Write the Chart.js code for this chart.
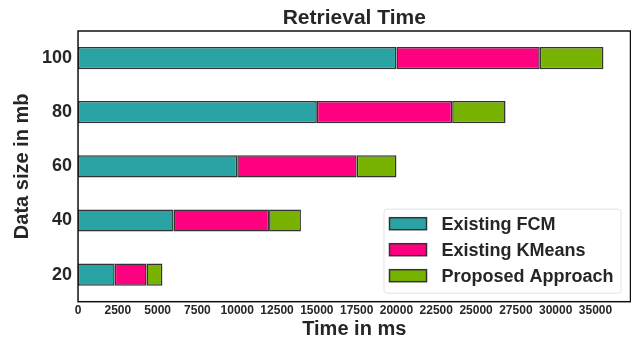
<!DOCTYPE html>
<html>
<head>
<meta charset="utf-8">
<script src="https://cdn.jsdelivr.net/npm/chart.js@4"></script>
<style>
  html, body { margin: 0; padding: 0; background: #fff; }
  #wrap { width: 631px; height: 345px; }
</style>
</head>
<body>
<div id="wrap"><canvas id="myChart" width="631" height="345"></canvas></div>
<script>
// data
const sizes = ['100', '80', '60', '40', '20'];
const fcm = [20000, 15000, 10000, 6000, 2300];
const kmeans = [9000, 8500, 7500, 6000, 2000];
const proposed = [4000, 3350, 2500, 2000, 1000];
const seriesNames = ['Existing FCM', 'Existing KMeans', 'Proposed Approach'];
const xTickValues = [0, 2500, 5000, 7500, 10000, 12500, 15000, 17500, 20000, 22500, 25000, 27500, 30000, 32500];
const xTickLabels = ['0', '2500', '5000', '7500', '10000', '12500', '15000', '17500', '20000', '22500', '25000', '27500', '30000', '35000'];
const chartTitle = 'Retrieval Time';

const colors = ['#2aa3a4', '#ff0080', '#77b300'];
const textColor = '#262626';
const fontFamily = '"Liberation Sans", Arial, sans-serif';

// frame round the plot area + title centred over it
const framePlugin = {
    id: 'frame',
    afterDraw(chart) {
        const a = chart.chartArea;
        const ctx = chart.ctx;
        ctx.save();
        ctx.strokeStyle = '#111';
        ctx.lineWidth = 1.5;
        ctx.strokeRect(a.left, a.top, a.right - a.left, a.bottom - a.top);
        ctx.fillStyle = textColor;
        ctx.font = 'bold 21px ' + fontFamily;
        ctx.textAlign = 'center';
        ctx.textBaseline = 'middle';
        ctx.fillText(chartTitle, (a.left + a.right) / 2, 18);
        ctx.restore();
    }
};

// legend box inside the plot, lower right
const innerLegend = {
    id: 'innerLegend',
    afterDraw(chart) {
        const ctx = chart.ctx;
        const a = chart.chartArea;
        const boxW = 237, boxH = 84;
        const x0 = a.right - 10 - boxW;
        const y0 = a.bottom - 9 - boxH;
        ctx.save();
        ctx.fillStyle = 'rgba(255,255,255,0.9)';
        ctx.strokeStyle = '#e2e2e2';
        ctx.lineWidth = 1;
        ctx.beginPath();
        ctx.roundRect(x0 + 0.5, y0 + 0.5, boxW, boxH, 3);
        ctx.fill();
        ctx.stroke();
        ctx.font = 'bold 18px ' + fontFamily;
        ctx.textBaseline = 'middle';
        chart.data.datasets.forEach((ds, i) => {
            const cy = y0 + 15 + i * 26;
            ctx.fillStyle = ds.backgroundColor;
            ctx.fillRect(x0 + 6, cy - 6, 37, 12);
            ctx.strokeStyle = '#333';
            ctx.lineWidth = 1.5;
            ctx.strokeRect(x0 + 6, cy - 6, 37, 12);
            ctx.fillStyle = textColor;
            ctx.fillText(ds.label, x0 + 58, cy + 1);
        });
        ctx.restore();
    }
};

const ctx = document.getElementById('myChart').getContext('2d');
new Chart(ctx, {
    type: 'bar',
    data: {
        labels: sizes,
        datasets: [fcm, kmeans, proposed].map((vals, i) => ({
            label: seriesNames[i],
            data: vals,
            backgroundColor: colors[i],
            borderColor: '#333',
            borderWidth: 1.5,
            borderSkipped: false,
            categoryPercentage: 1,
            barPercentage: 0.41
        }))
    },
    options: {
        indexAxis: 'y',
        responsive: false,
        animation: false,
        layout: { padding: { left: 12, right: 0.5, top: 31, bottom: 5.5 } },
        plugins: {
            legend: { display: false },
            tooltip: { enabled: false },
            title: { display: false }
        },
        scales: {
            x: {
                stacked: true,
                min: 0,
                max: 34700,
                grid: { display: false, drawTicks: false },
                border: { display: false },
                afterBuildTicks(axis) {
                    axis.ticks = xTickValues.map(v => ({ value: v }));
                },
                ticks: {
                    autoSkip: false,
                    maxRotation: 0,
                    padding: 5,
                    color: textColor,
                    font: { family: fontFamily, size: 12, weight: 'bold', lineHeight: 0.65 },
                    callback: (v) => xTickLabels[xTickValues.indexOf(v)]
                },
                title: {
                    display: true,
                    text: 'Time in ms',
                    color: textColor,
                    font: { family: fontFamily, size: 20, weight: 'bold', lineHeight: 1 },
                    padding: { top: 0, bottom: 0 }
                }
            },
            y: {
                stacked: true,
                grid: { display: false, drawTicks: false },
                border: { display: false },
                ticks: {
                    padding: 6,
                    color: textColor,
                    font: { family: fontFamily, size: 18, weight: 'bold' }
                },
                title: {
                    display: true,
                    text: 'Data size in mb',
                    color: textColor,
                    font: { family: fontFamily, size: 20, weight: 'bold', lineHeight: 1 },
                    padding: { top: 0, bottom: 4 }
                }
            }
        }
    },
    plugins: [framePlugin, innerLegend]
});
</script>
</body>
</html>
